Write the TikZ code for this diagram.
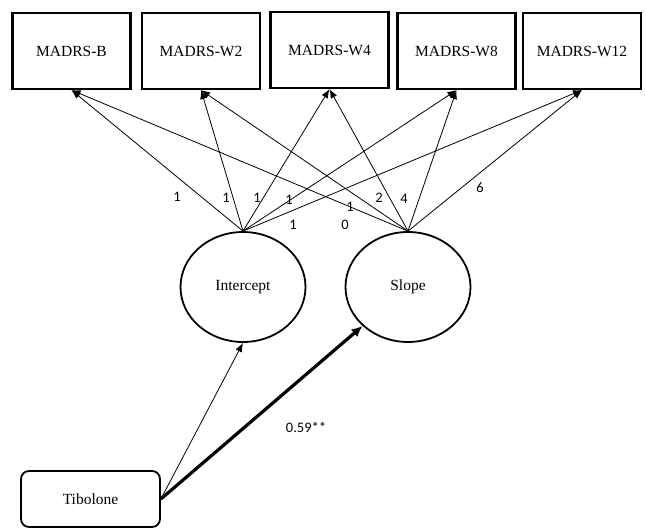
\documentclass[tikz,border=0pt]{standalone}
\usepackage{fontspec}
\setmainfont{Liberation Serif}
\newfontfamily\numfont{Carlito}
\usetikzlibrary{arrows.meta,shapes.geometric}

\begin{document}
\begin{tikzpicture}[
  x=1pt, y=-1pt,
  obs/.style={draw=black,line width=2.2pt,minimum width=118pt,minimum height=76pt,
    font=\fontsize{15.5}{18}\selectfont},
  latent/.style={draw=black,ellipse,line width=1.8pt,minimum width=125pt,minimum height=110pt,
    font=\fontsize{15.5}{18}\selectfont},
  cov/.style={draw=black,rounded corners=8pt,line width=1.8pt,minimum width=139pt,minimum height=56pt,
    font=\fontsize{15.5}{18}\selectfont},
  load/.style={font=\numfont\fontsize{14.5}{16}\selectfont},
  flow/.style={draw=black,line width=0.8pt,-{Latex[length=9pt,width=7pt]}},
  bigflow/.style={draw=black,line width=3.2pt,-{Latex[length=11pt,width=10pt]}}
]
  \useasboundingbox (0,0) rectangle (646,529);

  \node[obs] (mb)  at (71.5, 51) {MADRS-B};
  \node[obs] (m2)  at (201, 51) {MADRS-W2};
  \node[obs] (m4)  at (329.5, 50) {MADRS-W4};
  \node[obs] (m8)  at (456.5, 51) {MADRS-W8};
  \node[obs] (m12) at (582, 51) {MADRS-W12};

  \node[latent] (int) at (243, 287) {Intercept};
  \node[latent] (slo) at (408, 287) {Slope};

  \node[cov] (tib) at (90.5, 499) {Tibolone};

  \draw[flow] (int.north) -- (mb.south);
  \draw[flow] (int.north) -- (m2.south);
  \draw[flow] (int.north) -- (m4.south);
  \draw[flow] (int.north) -- (m8.south);
  \draw[flow] (int.north) -- (m12.south);

  \draw[flow] (slo.north) -- (mb.south);
  \draw[flow] (slo.north) -- (m2.south);
  \draw[flow] (slo.north) -- (m4.south);
  \draw[flow] (slo.north) -- (m8.south);
  \draw[flow] (slo.north) -- (m12.south);

  \node[load] (i0) at (177, 197) {1};
  \node[load] (i1) at (226, 198) {1};
  \node[load] (i2) at (257, 198) {1};
  \node[load] (i3) at (289, 200) {1};
  \node[load] (i4) at (293, 225) {1};

  \node[load] (s0) at (345, 225) {0};
  \node[load] (s1) at (350, 207) {1};
  \node[load] (s2) at (379, 198) {2};
  \node[load] (s3) at (404, 199) {4};
  \node[load] (s4) at (480, 188) {6};

  \draw[flow] (tib.east) -- (int.south);
  \draw[bigflow] (tib.east) -- (slo);

  \node[load] (eff) at (306, 427) {0.59**};
\end{tikzpicture}
\end{document}
